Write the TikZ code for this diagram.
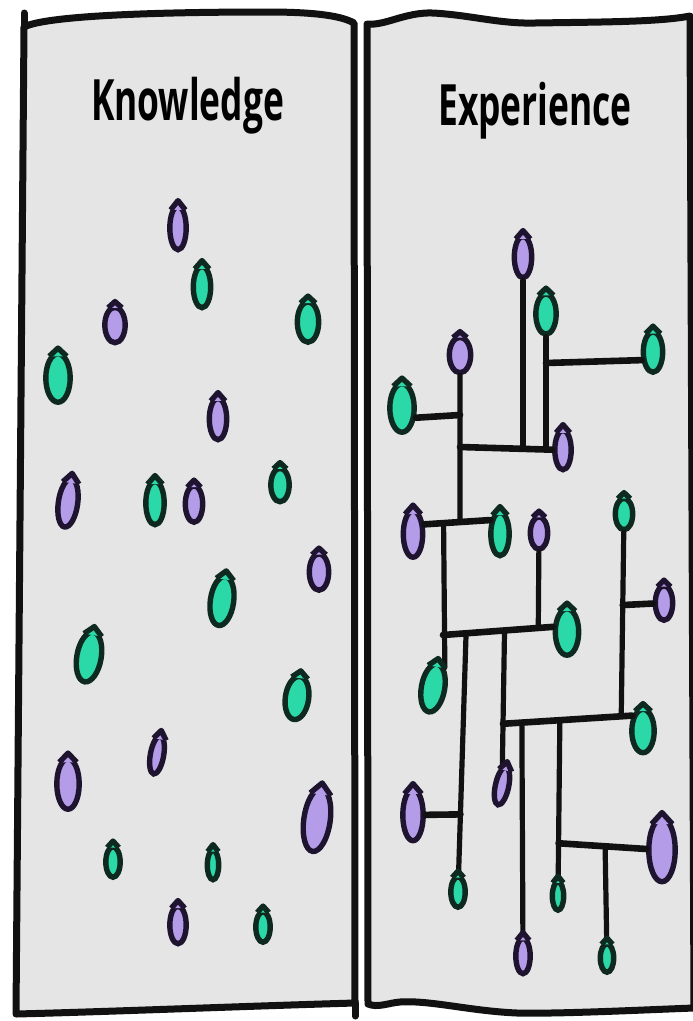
\documentclass[tikz,border=0pt]{standalone}
\usepackage{fontspec}
\newfontfamily\headfont{Open Sans}[FakeStretch=0.62]
\usetikzlibrary{shapes.geometric,calc}
\definecolor{paper}{HTML}{E5E5E5}
\definecolor{ink}{HTML}{111111}
\definecolor{lilacfill}{HTML}{B49CE8}
\definecolor{lilacline}{HTML}{1E1430}
\definecolor{mintfill}{HTML}{2AD8A8}
\definecolor{mintline}{HTML}{0E2A20}

\begin{document}
\begin{tikzpicture}[x=1pt,y=-1pt,
  panel/.style={draw=ink,line width=7pt,fill=paper,line join=round,line cap=round},
  title/.style={font=\headfont\bfseries\fontsize{57}{60}\selectfont,anchor=base,inner sep=0pt},
  blob/.style 2 args={ellipse,line width=5.4pt,inner sep=0pt,minimum width={#1pt-2.6pt},minimum height={#2pt-2.6pt}},
  lilac/.style={fill=lilacfill,draw=lilacline},
  mint/.style={fill=mintfill,draw=mintline},
  tipline/.style={line width=5.4pt,line join=round},
  vwire/.style={draw=ink,line width=5.2pt,line cap=round},
  hwire/.style={draw=ink,line width=6.6pt,line cap=round}
]
\fill[white] (0,0) rectangle (693,1021);
\useasboundingbox (0,0) rectangle (693,1021);

% the two panels
\filldraw[panel] (24,27) .. controls (45,16) and (150,12) .. (267,12)
  .. controls (310,12) and (340,15) .. (354,23) -- (355,1003)
  .. controls (250,1006) and (100,1012) .. (16,1014) -- cycle;
\draw[panel] (24,27) -- (24,13);
\draw[panel] (355,1003) -- (355,1016);
\filldraw[panel] (367,24) .. controls (385,26) and (405,12) .. (433,13)
  .. controls (470,15) and (500,24) .. (535,23)
  .. controls (600,22) and (660,22) .. (690,16) -- (694,1008)
  .. controls (640,1010) and (560,1014) .. (517,1013)
  .. controls (470,1011) and (430,1000) .. (400,1002)
  .. controls (388,1003) and (378,1008) .. (368,1004) -- cycle;

\node[title] (know) at (187.5,120) {Knowledge};
\node[title] (expe) at (535,125) {Experience};

% knowledge: loose dots
\node[blob={19}{46},lilac] (k01) at (178,228) {};
\node[blob={20}{44},mint] (k02) at (202,287) {};
\node[blob={23}{38},lilac] (k03) at (115,325) {};
\node[blob={24}{43},mint] (k04) at (308,322) {};
\node[blob={27}{51},mint] (k05) at (58,378) {};
\node[blob={20}{44},lilac] (k06) at (218,419) {};
\node[blob={22}{51},lilac,rotate=-8] (k07) at (68,503) {};
\node[blob={21}{46},mint] (k08) at (155,503) {};
\node[blob={20}{39},lilac] (k09) at (194,504) {};
\node[blob={21}{36},mint] (k10) at (280,485) {};
\node[blob={22}{39},lilac] (k11) at (319,572) {};
\node[blob={26}{52},mint,rotate=-8] (k12) at (222,601) {};
\node[blob={27}{53},mint,rotate=-10] (k13) at (89,657) {};
\node[blob={26}{46},mint,rotate=-8] (k14) at (297,698) {};
\node[blob={16}{41},lilac,rotate=-10] (k15) at (157,755) {};
\node[blob={25}{53},lilac] (k16) at (68,784) {};
\node[blob={29}{66},lilac,rotate=-8] (k17) at (317,820) {};
\node[blob={17}{33},mint] (k18) at (113,862) {};
\node[blob={14}{32},mint] (k19) at (213,865) {};
\node[blob={19}{40},lilac] (k20) at (178,925) {};
\node[blob={17}{33},mint] (k21) at (263,927) {};

% experience: the same kind of dots, wired up
\node[blob={20}{44},lilac] (e01) at (523,257) {};
\node[blob={23}{43},mint] (e02) at (546,314) {};
\node[blob={24}{38},lilac] (e03) at (460,355) {};
\node[blob={22}{43},mint] (e04) at (653,352) {};
\node[blob={27}{51},mint] (e05) at (402,408) {};
\node[blob={19}{42},lilac] (e06) at (563,450) {};
\node[blob={22}{49},lilac] (e07) at (413,534) {};
\node[blob={21}{46},mint] (e08) at (500,534) {};
\node[blob={20}{35},lilac] (e09) at (539,533) {};
\node[blob={20}{34},mint] (e10) at (624,514) {};
\node[blob={20}{37},lilac] (e11) at (664,603) {};
\node[blob={26}{49},mint] (e12) at (567,632) {};
\node[blob={26}{51},mint,rotate=-10] (e13) at (433,688) {};
\node[blob={23}{54},lilac] (e14) at (413,815) {};
\node[blob={17}{33},mint] (e15) at (458,892) {};
\node[blob={16}{41},lilac,rotate=-12] (e16) at (502,786) {};
\node[blob={25}{46},mint] (e17) at (643,731) {};
\node[blob={17}{38},lilac] (e18) at (523,956) {};
\node[blob={14}{31},mint] (e19) at (558,896) {};
\node[blob={29}{66},lilac] (e20) at (662,850) {};
\node[blob={16}{31},mint] (e21) at (607,958) {};

\coordinate (j0) at (460,447);
\coordinate (j1) at (523,447);
\coordinate (j2) at (546,447);
\coordinate (j3) at (546,363);
\coordinate (j4) at (460,415);
\coordinate (j5) at ($(e07.40)!0.54!(e08.125)$);
\coordinate (j6) at ($(e07.40)!0.29!(e08.125)$);
\coordinate (j7) at (443,635);
\coordinate (j8) at ($(j7)!0.21!(e12.160)$);
\coordinate (j9) at ($(j7)!0.56!(e12.160)$);
\coordinate (j10) at ($(j7)!0.867!(e12.160)$);
\coordinate (j11) at ($(j8)!0.70!(e15)$);
\coordinate (j12) at ($(j9)!0.6!(e16)$);
\coordinate (j13) at ($(j12)!0.146!(e17.125)$);
\coordinate (j14) at ($(j12)!0.44!(e17.125)$);
\coordinate (j15) at ($(j12)!0.915!(e17.125)$);
\coordinate (j16) at ($(e10)!0.45!(j15)$);
\coordinate (j17) at ($(j14)!0.70!(e19)$);
\coordinate (j18) at ($(j17)!0.45!(e20)$);

\draw[vwire] (e01) -- (j1);
\draw[vwire] (e02) -- (j2);
\draw[vwire] (e03) -- (j5);
\draw[hwire] (j0) -- (e06);
\draw[hwire] (j3) -- (e04.215);
\draw[hwire] (e05.-35) -- (j4);
\draw[hwire] (e07.40) -- (e08.125);
\draw[vwire] (j6) -- (e13.70);
\draw[hwire] (j7) -- (e12.160);
\draw[vwire] (e09) -- (j10);
\draw[vwire] (j8) -- (e15);
\draw[hwire] (e14) -- (j11);
\draw[vwire] (j9) -- (e16);
\draw[hwire] (j12) -- (e17.125);
\draw[vwire] (e10) -- (j15);
\draw[hwire] (j16) -- (e11);
\draw[vwire] (j13) -- (e18);
\draw[vwire] (j14) -- (e19);
\draw[hwire] (j17) -- (e20);
\draw[vwire] (j18) -- (e21);

% pointed tops of the drops
\foreach \n in {k01,k03,k06,k07,k09,k11,k15,k16,k17,k20,
                e01,e03,e06,e07,e09,e11,e14,e16,e18,e20}
  \filldraw[lilac,tipline] (\n.68) -- ($(\n.north)!-3pt!(\n.center)$) -- (\n.112);
\foreach \n in {k02,k04,k05,k08,k10,k12,k13,k14,k18,k19,k21,
                e02,e04,e05,e08,e10,e12,e13,e15,e17,e19,e21}
  \filldraw[mint,tipline] (\n.68) -- ($(\n.north)!-3pt!(\n.center)$) -- (\n.112);
\end{tikzpicture}
\end{document}
